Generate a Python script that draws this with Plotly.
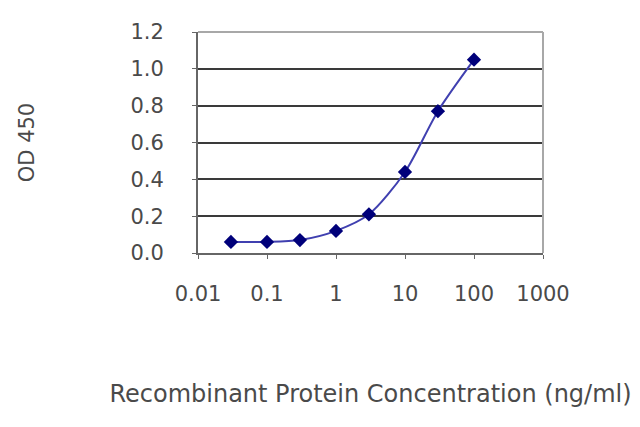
import plotly.graph_objects as go

concentration = [0.03, 0.1, 0.3, 1, 3, 10, 30, 100]
od450 = [0.06, 0.06, 0.07, 0.12, 0.21, 0.44, 0.77, 1.05]
x_tickvals = [0.01, 0.1, 1, 10, 100, 1000]
x_ticktext = ["0.01", "0.1", "1", "10", "100", "1000"]
y_tickvals = [0.0, 0.2, 0.4, 0.6, 0.8, 1.0, 1.2]

FONT = "DejaVu Sans"

fig = go.Figure()
fig.add_trace(go.Scatter(
    x=concentration, y=od450, mode="lines+markers",
    line=dict(color="#4040b0", width=2, shape="spline", smoothing=0.8),
    marker=dict(symbol="diamond", size=11, color="#00007a"),
    showlegend=False,
))

fig.update_layout(
    width=640, height=427,
    margin=dict(l=190, r=105, t=15, b=182),
    paper_bgcolor="white", plot_bgcolor="white",
    font=dict(family=FONT, size=21, color="#4a4a4a"),
    xaxis=dict(
        type="log", range=[-2, 3],
        tickvals=x_tickvals, ticktext=x_ticktext,
        showgrid=False, zeroline=False,
        showline=True, linecolor="#666666", linewidth=2,
        ticks="outside", ticklen=4, tickcolor="#666666",
        ticklabelstandoff=17,
        title=dict(text="Recombinant Protein Concentration (ng/ml)", standoff=80,
                   font=dict(family=FONT, size=24, color="#4a4a4a")),
    ),
    yaxis=dict(
        range=[0, 1.2], tickvals=y_tickvals, tickformat=".1f",
        showgrid=True, gridcolor="#3a3a3a", gridwidth=2,
        zeroline=False,
        showline=True, linecolor="#666666", linewidth=2,
        ticks="outside", ticklen=4, tickcolor="#666666",
        ticklabelstandoff=24,
        title=dict(text="OD 450", standoff=90,
                   font=dict(family=FONT, size=21, color="#4a4a4a")),
    ),
    shapes=[
        dict(type="line", xref="paper", yref="paper", x0=0, x1=1, y0=1, y1=1,
             line=dict(color="#a8a8a8", width=2), layer="above"),
        dict(type="line", xref="paper", yref="paper", x0=1, x1=1, y0=0, y1=1,
             line=dict(color="#a8a8a8", width=2), layer="above"),
    ],
)

fig.write_html("out.html")
